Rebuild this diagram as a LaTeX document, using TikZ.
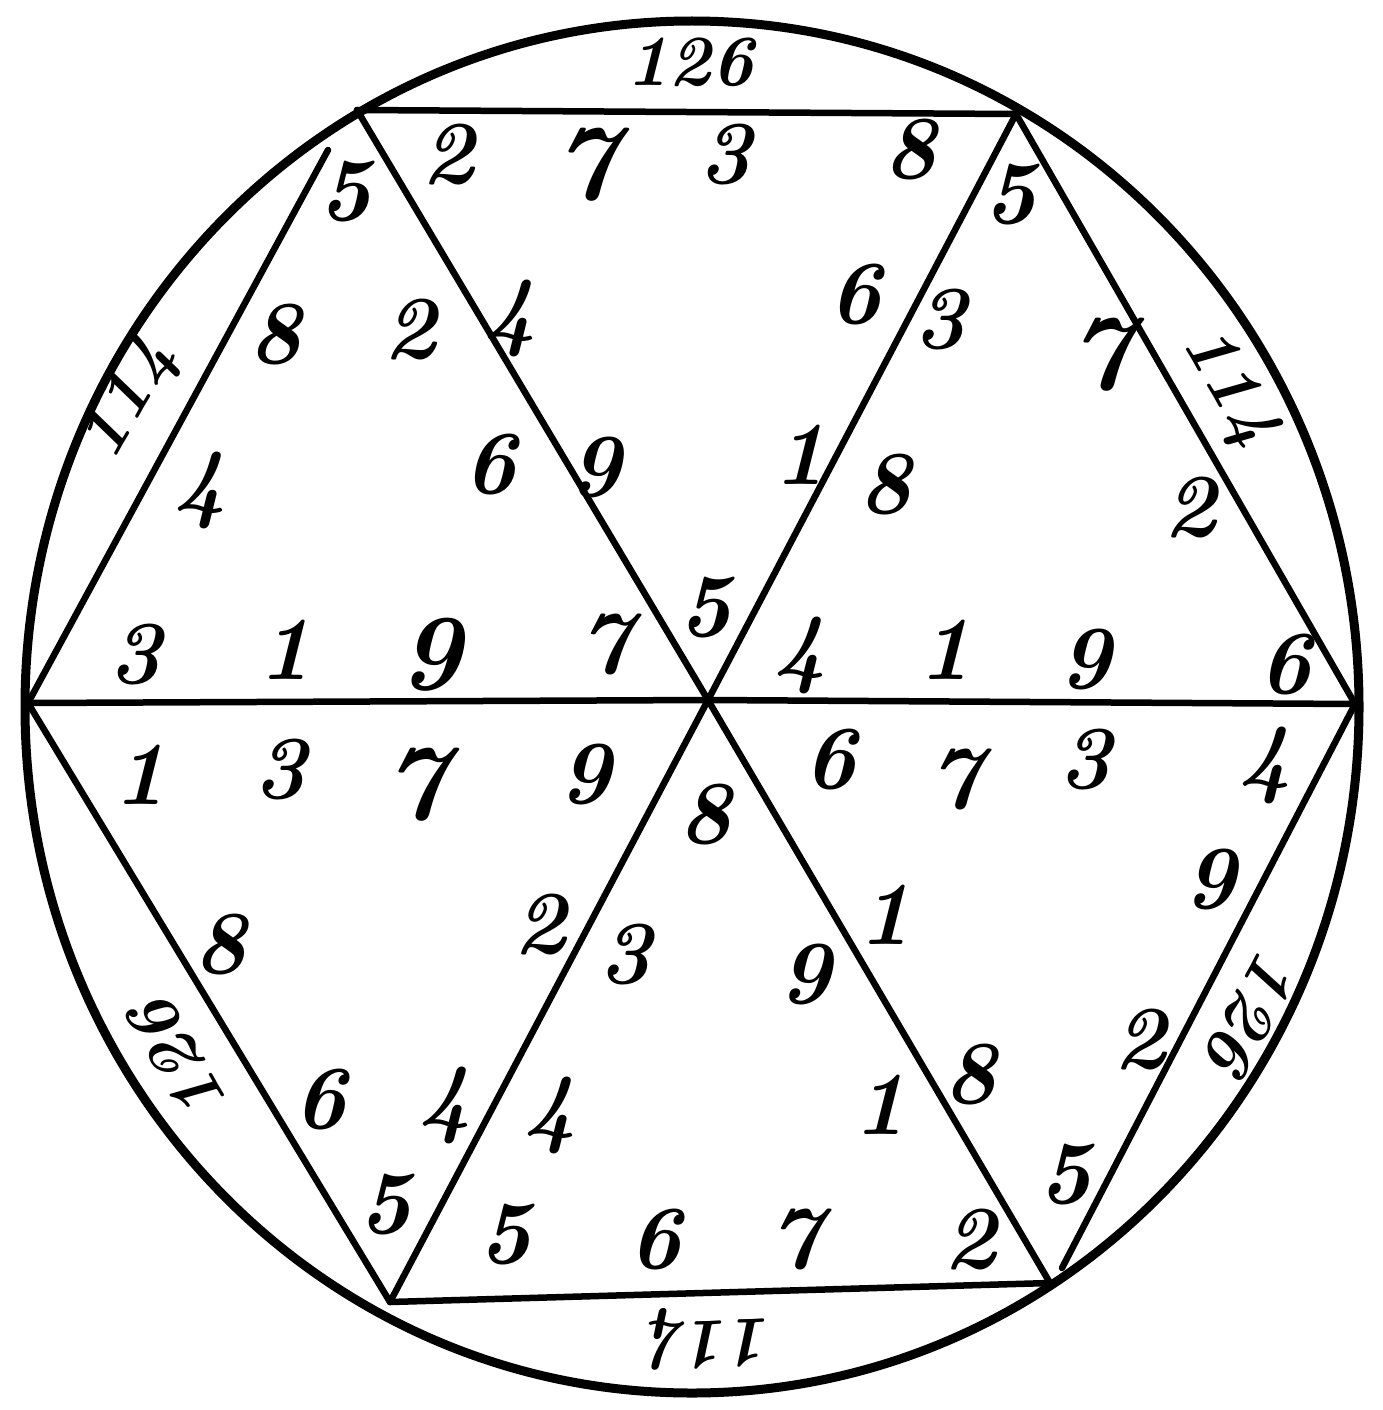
\documentclass[tikz,border=0pt]{standalone}
\begin{document}
\begin{tikzpicture}[x=1pt,y=-1pt,
  num/.style={font=\fontsize{90}{90}\selectfont\bfseries\itshape, inner sep=0pt},
  bignum/.style={font=\fontsize{108}{108}\selectfont\bfseries\itshape, inner sep=0pt},
  rim/.style={font=\fontsize{72}{72}\selectfont\bfseries\itshape, inner sep=0pt},
  edge/.style={line width=6.5pt, line cap=round},
  ring/.style={line width=9pt}]
\useasboundingbox (0,0) rectangle (1383,1410);
% outer circle
\draw[ring] (692,707) ellipse [x radius=667, y radius=686];
% vertices
\coordinate (C) at (708,700);
\coordinate (TL) at (357,110);
\coordinate (TR) at (1016,114);
\coordinate (L) at (28,703);
\coordinate (R) at (1355,704);
\coordinate (BL) at (390,1302);
\coordinate (BR) at (1050,1283);
\coordinate (TLs) at (328,150);
\coordinate (BRs) at (1062,1268);
% hexagon sides
\draw[edge] (TL) -- (TR);
\draw[edge] (TR) -- (R);
\draw[edge] (R) -- (BRs);
\draw[edge] (BR) -- (BL);
\draw[edge] (BL) -- (L);
\draw[edge] (L) -- (TLs);
% diagonals
\draw[edge] (TL) -- (C) -- (BR);
\draw[edge] (TR) -- (C) -- (BL);
\draw[edge] (L) -- (C) -- (R);
% numbers
\foreach \x/\y/\d [count=\i] in {
  448/155/2, 725/155/3, 910/150/8, 510/318/4, 855/295/6, 595/468/9, 800/455/1, 705/608/5,
  345/192/5, 275/335/8, 410/330/2, 200/490/4, 490/465/6, 135/655/3, 285/650/1, 605/645/7,
  1010/195/5, 940/320/3, 885/485/8, 1190/508/2, 800/655/4, 945/650/1, 1085/660/9, 1285/665/6,
  140/775/1, 280/770/3, 585/775/9, 220/945/8, 540/925/2, 320/1100/6, 445/1105/4, 385/1205/5,
  705/815/8, 625/955/3, 805/975/9, 550/1115/4, 880/1105/1, 505/1235/5, 655/1240/6, 795/1240/7, 970/1240/2,
  830/760/6, 955/780/7, 1085/760/3, 1265/765/4, 1210/880/9, 885/915/1, 1140/1040/2, 970/1075/8, 1065/1175/5}
  \node[num] (n\i) at (\x,\y) {\d};
\foreach \x/\y/\d [count=\i] in {585/165/7, 430/655/9, 1100/355/7, 415/785/7}
  \node[bignum] (b\i) at (\x,\y) {\d};
% rim totals
\node[rim] (t1) at (690,62) {126};
\node[rim, rotate=60] (t2) at (130,400) {114};
\node[rim, rotate=-60] (t3) at (1228,388) {114};
\node[rim, rotate=120] (t4) at (178,1060) {126};
\node[rim, rotate=-118] (t5) at (1252,1013) {126};
\node[rim, rotate=182] (t6) at (710,1338) {114};
\end{tikzpicture}
\end{document}
